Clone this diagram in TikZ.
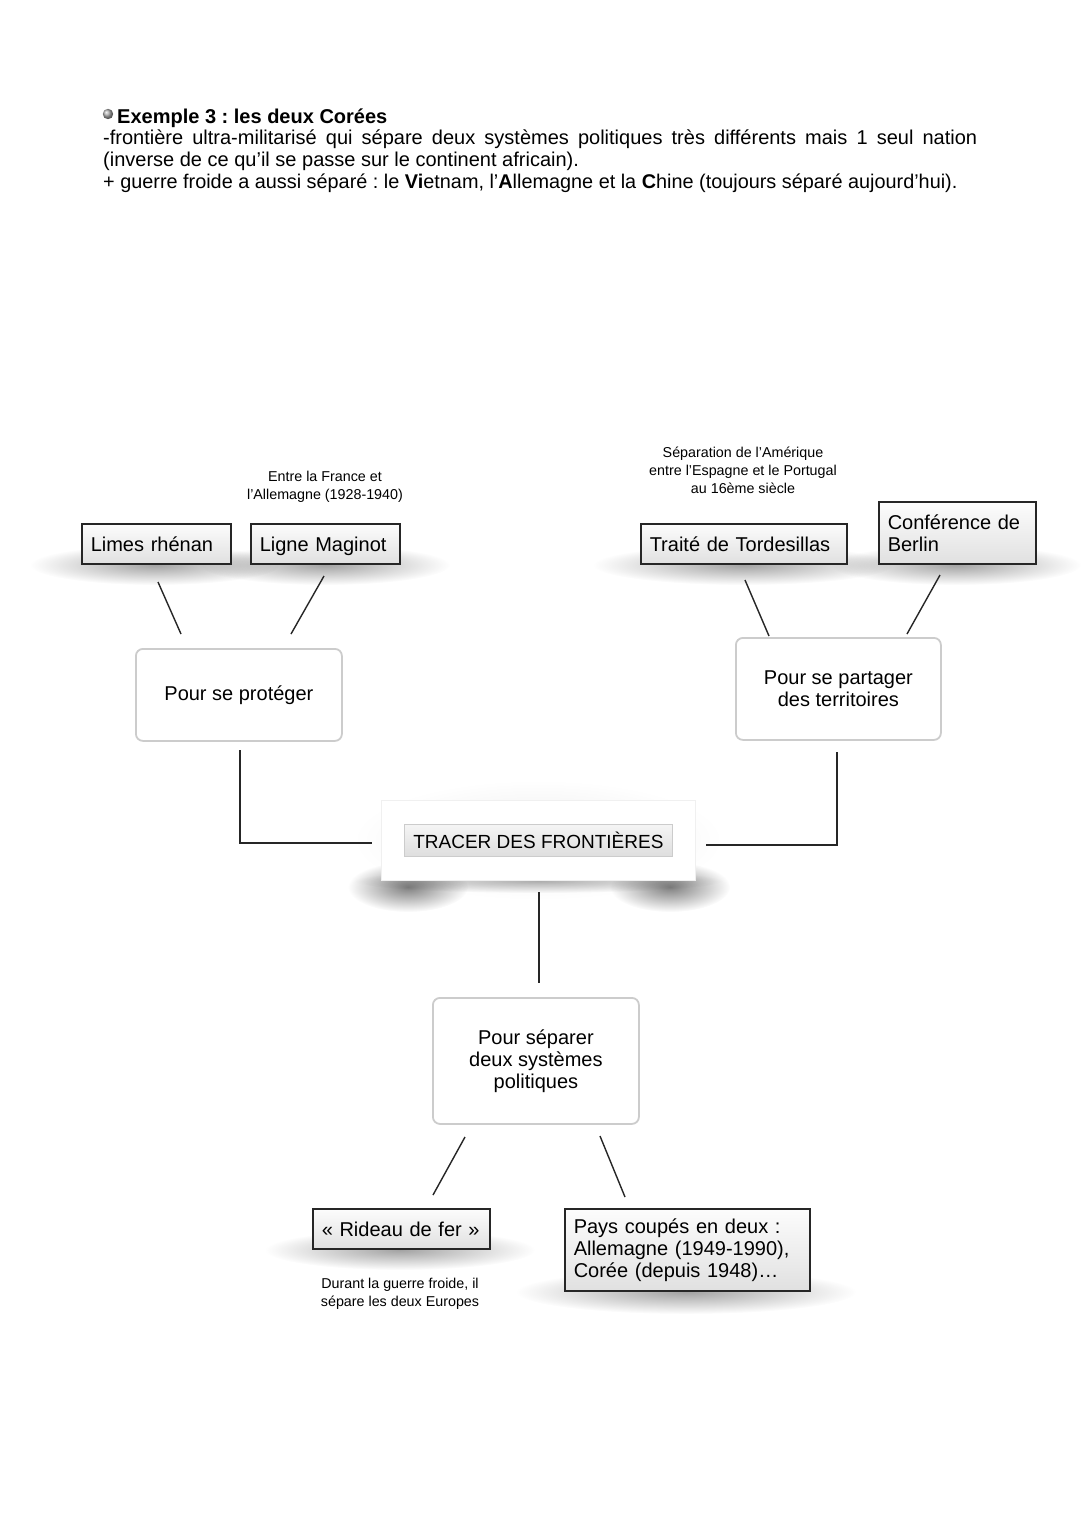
\documentclass[tikz,border=0pt]{standalone}
\usepackage{fontspec}
\setmainfont{Liberation Sans}
\frenchspacing
\usetikzlibrary{fadings}
\tikzfading[name=softglow, inner color=transparent!0, outer color=transparent!100]
\begin{document}
\begin{tikzpicture}[x=1pt,y=-1pt,
  every node/.style={font=\fontsize{20}{22}\selectfont, text=black},
  gbox/.style={draw=black!85, line width=1.5pt, top color=gray!2, bottom color=gray!24, anchor=north west, inner xsep=9pt, inner ysep=0pt, align=left, minimum height=40pt},
  oneline/.style={text depth=0pt},
  rbox/.style={draw=gray!40, line width=1.8pt, fill=white, rounded corners=7pt, anchor=north west, align=center, inner sep=0pt},
  small/.style={font=\fontsize{14.3}{18}\selectfont, align=center, inner sep=0pt, anchor=north},
  head/.style={anchor=base west, inner sep=0pt},
  link/.style={line width=1.4pt, black!85},
  blob/.style={fill=black, path fading=softglow}
]
\useasboundingbox[fill=white] (0,0) rectangle (1080,1527);

% header
\shade[ball color=gray!65] (108,114) circle (5.2);
\node[head] (h1) at (117,123) {\textbf{Exemple 3 : les deux Corées}};
\node[head] (h2) at (103,144.5) {\makebox[874pt][s]{-frontière ultra-militarisé qui sépare deux systèmes politiques très différents mais 1 seul nation}};
\node[head] (h3) at (103,166.5) {(inverse de ce qu’il se passe sur le continent africain).};
\node[head, font=\fontsize{19.85}{22}\selectfont] (h4) at (103,188) {+ guerre froide a aussi séparé : le \textbf{Vi}etnam, l’\textbf{A}llemagne et la \textbf{C}hine (toujours séparé aujourd’hui).};

% shadows
\fill[blob, opacity=0.36] (155,565) ellipse [x radius=125, y radius=20];
\fill[blob, opacity=0.36] (325,565) ellipse [x radius=125, y radius=20];
\fill[blob, opacity=0.36] (743,565) ellipse [x radius=150, y radius=20];
\fill[blob, opacity=0.36] (956,565) ellipse [x radius=125, y radius=20];
\fill[blob, opacity=0.36] (400,1250) ellipse [x radius=135, y radius=20];
\fill[blob, opacity=0.36] (686,1292) ellipse [x radius=170, y radius=22];
\fill[blob, opacity=0.5] (408,887) ellipse [x radius=60, y radius=25];
\fill[blob, opacity=0.5] (670,887) ellipse [x radius=60, y radius=25];
\fill[blob, opacity=0.3] (538,881) ellipse [x radius=185, y radius=12];
\fill[blob, opacity=0.08] (538,840) ellipse [x radius=185, y radius=60];

% top left
\node[gbox, oneline, text width=131pt] (limes) at (81,523) {Limes rhénan};
\node[gbox, oneline, text width=131pt] (maginot) at (250,523) {Ligne Maginot};
\node[small] (lmag) at (325,470.6) {Entre la France et\\l’Allemagne (1928-1940)};

% top right
\node[gbox, oneline, text width=188pt] (tordes) at (640,523) {Traité de Tordesillas};
\node[gbox, text width=139pt, minimum height=62pt] (berlin) at (878,501) {Conférence de\\Berlin};
\node[small] (ltord) at (743,446.8) {Séparation de l’Amérique\\entre l’Espagne et le Portugal\\au 16ème siècle};

% middle boxes
\node[rbox, minimum width=206pt, minimum height=92pt] (protect) at (135,648) {Pour se protéger};
\node[rbox, minimum width=205pt, minimum height=102pt] (partager) at (735,637) {Pour se partager\\des territoires};

% center
\node[draw=gray!12, line width=0.8pt, fill=white, anchor=north west, minimum width=314pt, minimum height=80pt, inner sep=0pt] (center) at (381,800) {};
\node[draw=gray!40, line width=1pt, top color=gray!8, bottom color=gray!26, minimum width=268pt, minimum height=32pt, inner sep=0pt, font=\fontsize{19}{21}\selectfont] (title) at (center.center) {TRACER DES FRONTIÈRES};

% bottom
\node[rbox, minimum width=206pt, minimum height=126pt] (separer) at (432,997) {Pour séparer\\deux systèmes\\politiques};
\node[gbox, oneline, text width=159pt] (rideau) at (312,1208) {« Rideau de fer »};
\node[gbox, text width=227pt, minimum height=82pt] (pays) at (564,1208) {Pays coupés en deux :\\Allemagne (1949-1990),\\Corée (depuis 1948)…};
\node[small] (lrid) at (400,1277.6) {Durant la guerre froide, il\\sépare les deux Europes};

% connectors
\coordinate (c1a) at (158,582); \coordinate (c1b) at (181,634);
\coordinate (c2a) at (324,576); \coordinate (c2b) at (291,634);
\coordinate (c3a) at (745,580); \coordinate (c3b) at (769,636);
\coordinate (c4a) at (940,575); \coordinate (c4b) at (907,634);
\coordinate (c5a) at (240,750); \coordinate (c5b) at (372,843);
\coordinate (c6a) at (837,752); \coordinate (c6b) at (706,845);
\coordinate (c7a) at (539,892); \coordinate (c7b) at (539,983);
\coordinate (c8a) at (465,1137); \coordinate (c8b) at (433,1195);
\coordinate (c9a) at (600,1136); \coordinate (c9b) at (625,1197);
\draw[link] (c1a) -- (c1b);
\draw[link] (c2a) -- (c2b);
\draw[link] (c3a) -- (c3b);
\draw[link] (c4a) -- (c4b);
\draw[link] (c5a) |- (c5b);
\draw[link] (c6a) |- (c6b);
\draw[link] (c7a) -- (c7b);
\draw[link] (c8a) -- (c8b);
\draw[link] (c9a) -- (c9b);
\end{tikzpicture}
\end{document}
